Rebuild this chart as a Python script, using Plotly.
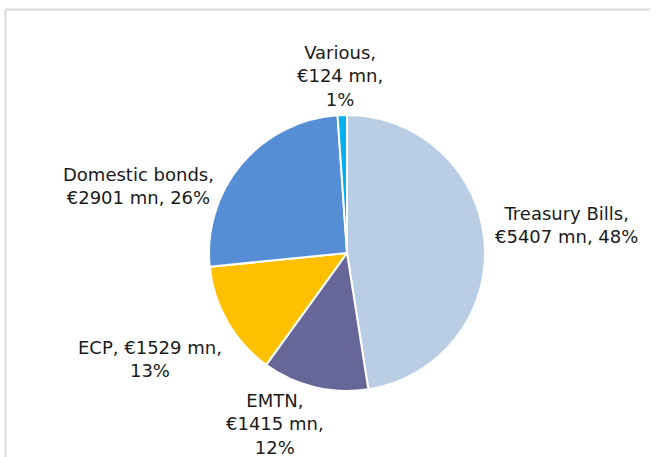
import plotly.graph_objects as go

# data
names = ["Treasury Bills", "EMTN", "ECP", "Domestic bonds", "Various"]
values = [5407, 1415, 1529, 2901, 124]
colors = ["#B9CDE5", "#666699", "#FFC000", "#558ED5", "#00B0F0"]
# where each label breaks onto a new line
label_breaks = [[",<br>", ", "], [",<br>", ",<br>"], [", ", ",<br>"], [",<br>", ", "], [",<br>", ",<br>"]]

W, H = 658, 457
# label centres in window pixels
label_px = [(566, 225), (275, 424), (150, 359), (138, 186), (340, 76)]

total = sum(values)
texts = []
for n, v, b in zip(names, values, label_breaks):
    pct = round(v / total * 100)
    texts.append("{}{}€{} mn{}{}%".format(n, b[0], v, b[1], pct))

cx, cy, r = 347, 253, 138

fig = go.Figure(go.Pie(
    labels=names, values=values, sort=False, direction="clockwise", rotation=0,
    marker=dict(colors=colors, line=dict(color="white", width=2)),
    textinfo="none", hoverinfo="label+value+percent", showlegend=False,
    domain=dict(x=[(cx - r) / W, (cx + r) / W], y=[(H - cy - r) / H, (H - cy + r) / H]),
))

for t, (px, py) in zip(texts, label_px):
    fig.add_annotation(x=px / W, y=1 - py / H, xref="paper", yref="paper", text=t,
                       showarrow=False, align="center", xanchor="center", yanchor="middle",
                       font=dict(family="DejaVu Sans", size=18, color="#1a1a1a"))

# chart frame (only top and left edges visible)
top = 1 - 9.5 / H
left = 5.5 / W
fig.add_shape(type="line", xref="paper", yref="paper", x0=left, x1=650 / W, y0=top, y1=top,
              line=dict(color="#D9D9D9", width=2))
fig.add_shape(type="line", xref="paper", yref="paper", x0=left, x1=left, y0=0, y1=top,
              line=dict(color="#D9D9D9", width=2))

fig.update_layout(width=W, height=H, margin=dict(l=0, r=0, t=0, b=0),
                  paper_bgcolor="white", plot_bgcolor="white")
# drop the default page margin so the figure sits in the window corner
fig.write_html("out.html", config={"displayModeBar": False},
               post_script="document.body.style.margin='0';document.body.style.overflow='hidden';")
